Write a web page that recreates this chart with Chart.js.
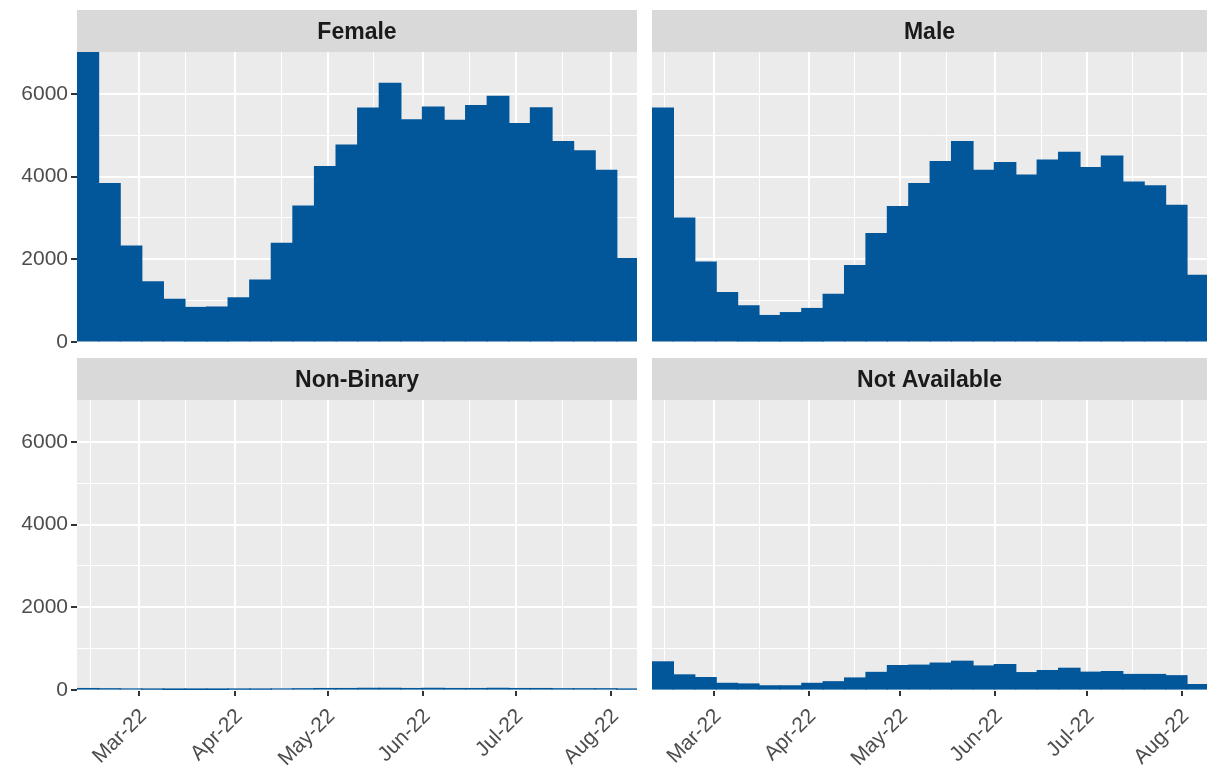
<!DOCTYPE html>
<html>
<head>
<meta charset="utf-8">
<script src="https://cdn.jsdelivr.net/npm/chart.js@4.4.1/dist/chart.umd.min.js"></script>
<style>
  body { margin: 0; background: #fff; width: 1207px; height: 769px; position: relative; overflow: hidden; }
  canvas { position: absolute; }
</style>
</head>
<body>
<canvas id="c-female" width="637" height="360" style="left:0;top:0"></canvas>
<canvas id="c-male" width="555" height="360" style="left:652px;top:0"></canvas>
<canvas id="c-nonbinary" width="637" height="421" style="left:0;top:348px"></canvas>
<canvas id="c-na" width="555" height="421" style="left:652px;top:348px"></canvas>
<script>
// weekly bins (start date of each week)
const weekStarts = ['2022-02-08', '2022-02-15', '2022-02-22', '2022-03-01', '2022-03-08', '2022-03-15',
  '2022-03-22', '2022-03-29', '2022-04-05', '2022-04-12', '2022-04-19', '2022-04-26', '2022-05-03',
  '2022-05-10', '2022-05-17', '2022-05-24', '2022-05-31', '2022-06-07', '2022-06-14', '2022-06-21',
  '2022-06-28', '2022-07-05', '2022-07-12', '2022-07-19', '2022-07-26', '2022-08-02'];

const female = [7015, 3830, 2320, 1455, 1030, 835, 845, 1065, 1495, 2385, 3290, 4245, 4760,
  5660, 6255, 5375, 5685, 5360, 5720, 5940, 5280, 5665, 4850, 4625, 4155, 2015];
const male = [5660, 3000, 1930, 1195, 875, 640, 710, 810, 1150, 1850, 2620, 3275, 3830,
  4365, 4850, 4155, 4340, 4035, 4400, 4585, 4220, 4495, 3870, 3775, 3305, 1610];
const nonBinary = [35, 30, 25, 20, 15, 15, 15, 20, 20, 25, 30, 35, 35,
  40, 40, 35, 40, 35, 35, 40, 35, 35, 30, 30, 30, 20];
const notAvailable = [680, 365, 300, 160, 145, 100, 100, 160, 200, 290, 425, 590, 600,
  650, 695, 580, 615, 420, 470, 525, 430, 445, 375, 375, 345, 130];

const monthBreaks = ['2022-03-01', '2022-04-01', '2022-05-01', '2022-06-01', '2022-07-01', '2022-08-01'];
const monthLabels = ['Mar-22', 'Apr-22', 'May-22', 'Jun-22', 'Jul-22', 'Aug-22'];
const minorBreaks = ['2022-02-13', '2022-03-16', '2022-04-16', '2022-05-16', '2022-06-16', '2022-07-16'];
const yBreaks = [0, 2000, 4000, 6000];
const yMinorBreaks = [1000, 3000, 5000];

const BAR = '#02579B';
const FONT = "'Liberation Sans', Arial, sans-serif";
const BIN_SHIFT = 0.75;
const X_MIN = 38.75, X_MAX = 220.3;
const Y_MAX = Math.max(...female, ...male, ...nonBinary, ...notAvailable);

function dayNum(s) {
  const [y, m, d] = s.split('-').map(Number);
  return (Date.UTC(y, m - 1, d) - Date.UTC(2022, 0, 1)) / 864e5;
}

// grey panel + strip behind the title
const facetStrip = {
  id: 'facetStrip',
  beforeDraw(chart) {
    const { ctx, chartArea: a } = chart;
    ctx.save();
    ctx.fillStyle = '#EBEBEB';
    ctx.fillRect(a.left, a.top, a.right - a.left, a.bottom - a.top);
    ctx.fillStyle = '#D9D9D9';
    ctx.fillRect(a.left, a.top - 42, a.right - a.left, 42);
    ctx.restore();
  }
};

const isMajor = c => !!(c.tick && c.tick.major);

function facet(id, title, values, showY, showX) {
  return new Chart(document.getElementById(id), {
    type: 'bar',
    data: {
      datasets: [{
        label: title,
        data: weekStarts.map((w, i) => ({ x: dayNum(w) + BIN_SHIFT + 3.5, y: values[i] })),
        backgroundColor: BAR,
        borderWidth: 0,
        inflateAmount: 0.6,
        barPercentage: 1,
        categoryPercentage: 1
      }]
    },
    options: {
      responsive: false,
      animation: false,
      events: [],
      layout: { padding: { top: 10 } },
      plugins: {
        legend: { display: false },
        tooltip: { enabled: false },
        title: {
          display: true, text: title, fullSize: false, color: '#1A1A1A',
          font: { family: FONT, size: 23, weight: 'bold' },
          padding: { top: 8.4, bottom: 6 }
        }
      },
      scales: {
        x: {
          type: 'linear', min: X_MIN, max: X_MAX, bounds: 'data', offset: false,
          afterBuildTicks: s => {
            s.ticks = monthBreaks.map(d => ({ value: dayNum(d), major: true }))
              .concat(minorBreaks.map(d => ({ value: dayNum(d), major: false })));
          },
          afterFit: s => { s.height = showX ? 79 : 18; },
          border: { display: false },
          grid: {
            offset: false,
            color: '#FFFFFF',
            lineWidth: c => isMajor(c) ? 2 : 1,
            drawTicks: showX, tickLength: 6, tickWidth: 2,
            tickColor: c => isMajor(c) ? '#333333' : 'rgba(0,0,0,0)'
          },
          ticks: {
            display: showX, autoSkip: false, minRotation: 45, maxRotation: 45,
            padding: 8, labelOffset: 4,
            major: { enabled: false },
            color: '#4D4D4D', font: { family: FONT, size: 21 },
            callback: v => {
              const k = monthBreaks.findIndex(d => dayNum(d) === v);
              return k >= 0 ? monthLabels[k] : '';
            }
          }
        },
        y: {
          min: 0, max: Y_MAX, bounds: 'data',
          afterBuildTicks: s => {
            s.ticks = yBreaks.map(v => ({ value: v, major: true }))
              .concat(yMinorBreaks.map(v => ({ value: v, major: false })));
          },
          afterFit: s => { s.width = showY ? 77 : 0; },
          border: { display: false },
          grid: {
            color: '#FFFFFF',
            lineWidth: c => isMajor(c) ? 2 : 1,
            drawTicks: showY, tickLength: 6, tickWidth: 2,
            tickColor: c => isMajor(c) ? '#333333' : 'rgba(0,0,0,0)'
          },
          ticks: {
            display: showY, padding: 3,
            major: { enabled: false },
            color: '#4D4D4D', font: { family: FONT, size: 21 },
            callback: v => yBreaks.includes(v) ? String(v) : ''
          }
        }
      }
    },
    plugins: [facetStrip]
  });
}

facet('c-female', 'Female', female, true, false);
facet('c-male', 'Male', male, false, false);
facet('c-nonbinary', 'Non-Binary', nonBinary, true, true);
facet('c-na', 'Not Available', notAvailable, false, true);
</script>
</body>
</html>
